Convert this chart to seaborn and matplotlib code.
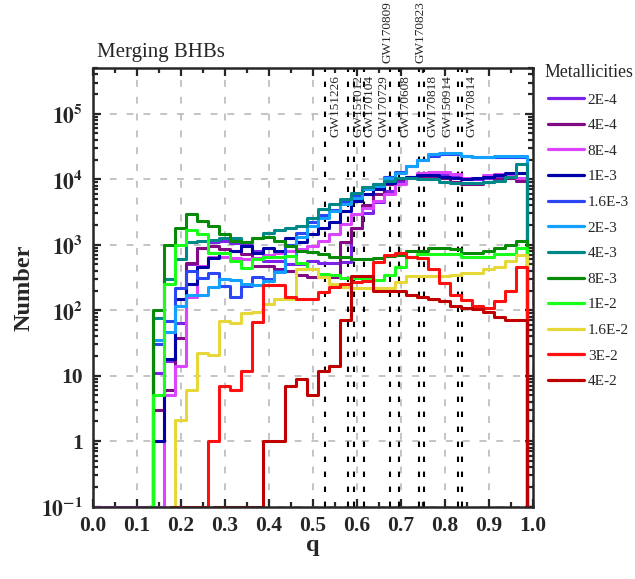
import numpy as np
import pandas as pd
import matplotlib
matplotlib.use("Agg")
import matplotlib.pyplot as plt
import matplotlib.ticker as mticker
from matplotlib.lines import Line2D
import matplotlib.transforms as mtransforms
import seaborn as sns

nan = np.nan

# ---------------------------------------------------------
# data : number of merging BHBs per mass-ratio bin (bin width 0.025)
# ---------------------------------------------------------
q = np.round(np.arange(41) * 0.025, 3)

metallicities = ["2E-4", "4E-4", "8E-4", "1E-3", "1.6E-3", "2E-3",
                 "4E-3", "8E-3", "1E-2", "1.6E-2", "3E-2", "4E-2"]
colors = ["#7b24e8", "#820a84", "#dd44ff", "#0000a8", "#2a46f5", "#13a0ff",
          "#008888", "#078a07", "#19ff19", "#e6d838", "#ff1010", "#c00000"]

n_2e4 = [nan, nan, nan, nan, nan, 0.1, 11, 17, 64, 500, 900, 1100, 1150, 1050,
         1000, 800, 560, 560, 500, 500, 560, 530, 520, 550, 1800, 3000, 4500,
         6500, 9000, 11000, 12000, 12500, 12000, 11000, 10000, 10000, 10500,
         11000, 11000, 10000, 0.1]
n_4e4 = [nan, nan, nan, nan, nan, 0.1, 3, 6, 37, 530, 900, 950, 870, 800,
         730, 480, 480, 430, 400, 350, 320, 320, 320, 1100, 1800, 4000, 6000,
         8500, 10000, 10500, 10500, 11000, 10500, 9000, 8500, 8500, 9000,
         10000, 10500, 9500, 0.1]
n_8e4 = [0.1, 0.1, 0.1, 0.1, 0.1, 0.1, 0.1, 5, 14, 160, 480, 650, 650, 620,
         600, 620, 700, 760, 800, 870, 950, 1150, 1450, 2100, 2900, 3700, 4700,
         6000, 8400, 11000, 12500, 13000, 13000, 12000, 10500, 10500, 11500,
         12000, 12000, 10500, 0.1]
n_1e3 = [nan, nan, nan, nan, nan, 0.1, 1, 18, 150, 250, 460, 620, 760, 800,
         950, 760, 900, 800, 1250, 1100, 1450, 1800, 2200, 3300, 4700, 6000,
         7000, 8900, 10500, 11000, 11500, 11500, 11000, 10500, 10000, 10500,
         11000, 11500, 12500, 12500, 0.1]
n_16e3 = [nan, nan, nan, nan, nan, 0.1, 30, 68, 215, 400, 310, 370, 235, 160,
          235, 320, 300, 400, 1000, 1500, 2200, 2800, 3400, 4600, 5500, 7500,
          8500, 11000, 13000, 16000, 20000, 23000, 24000, 24000, 23000, 22000,
          22000, 22000, 22000, 22000, 0.1]
n_2e3 = [nan, nan, nan, nan, nan, 0.1, 35, 46, 115, 170, 170, 230, 300, 290,
         250, 240, 280, 380, 680, 1300, 1900, 2600, 3300, 4200, 5200, 7000,
         8000, 10500, 12400, 16000, 20000, 24000, 25000, 25000, 23000, 22000,
         22000, 22500, 22500, 22500, 0.1]
n_4e3 = [nan, nan, nan, nan, nan, 0.1, 75, 300, 600, 1100, 1150, 1200, 1250,
         1250, 1100, 1250, 1500, 1700, 1800, 1900, 2600, 3500, 4200, 5000, 6200,
         7500, 8500, 9500, 10500, 10500, 10000, 10000, 9000, 8700, 8700, 8700,
         9000, 9500, 11000, 17000, 0.1]
n_8e3 = [nan, nan, nan, nan, nan, 0.1, 100, 1000, 1800, 2900, 2300, 1900, 1450,
         1150, 1100, 1250, 1300, 1150, 950, 800, 780, 720, 650, 640, 610, 610,
         620, 680, 700, 790, 800, 880, 900, 850, 760, 760, 800, 880, 1000, 1150,
         0.1]
n_1e2 = [nan, nan, nan, nan, nan, 0.1, 5, 250, 1000, 1700, 1450, 750, 740, 560,
         440, 610, 640, 640, 680, 520, 420, 360, 340, 310, 310, 300, 290, 350,
         460, 640, 730, 730, 730, 730, 650, 650, 650, 720, 720, 900, 0.1]
n_16e2 = [nan, nan, nan, nan, nan, nan, nan, 0.1, 2.1, 6, 22, 21, 68, 64, 92,
          95, 125, 150, 150, 430, 420, 320, 250, 230, 215, 215, 215, 220, 270,
          330, 330, 330, 330, 340, 370, 370, 420, 460, 560, 700, 0.1]
n_3e2 = [nan, nan, nan, nan, nan, nan, nan, 0.1, 0.1, 0.1, 0.1, 1, 7, 6, 12,
         65, 240, 240, 160, 150, 150, 190, 230, 250, 270, 280, 550, 700, 750,
         650, 630, 420, 260, 170, 145, 115, 110, 140, 200, 450, 0.1]
n_4e2 = [nan, nan, nan, nan, nan, nan, nan, nan, nan, nan, nan, 0.1, 0.1, 0.1,
         0.1, 0.1, 1, 1, 7, 9, 5, 12, 14, 72, 330, 330, 200, 200, 200, 170, 160,
         150, 140, 115, 110, 105, 95, 80, 72, 72, 0.1]

series = [n_2e4, n_4e4, n_8e4, n_1e3, n_16e3, n_2e3,
          n_4e3, n_8e3, n_1e2, n_16e2, n_3e2, n_4e2]

# GW events : line position and label position (q)
gw_names = ["GW151226", "GW151012", "GW170104", "GW170729", "GW170809",
            "GW170608", "GW170823", "GW170818", "GW150914", "GW170814"]
gw_q = [0.528, 0.581, 0.594, 0.617, 0.676, 0.696, 0.741, 0.752, 0.830, 0.839]
gw_label_q = [0.551, 0.605, 0.630, 0.660, 0.671, 0.712, 0.744, 0.773, 0.807, 0.862]
gw_label_top = [False, False, False, False, True, False, True, False, False, False]

# long form table for seaborn
df = pd.concat([pd.DataFrame({"q": q, "Number": s, "Z": z})
                for s, z in zip(series, metallicities)], ignore_index=True)
df = df.dropna()

# ---------------------------------------------------------
# style
# ---------------------------------------------------------
sns.set_style("ticks")
plt.rcParams["font.family"] = ["Liberation Serif", "DejaVu Serif"]
plt.rcParams["mathtext.fontset"] = "stix"

fig = plt.figure(figsize=(6.35, 5.79), dpi=100)
ax = fig.add_axes([0.1458, 0.1249, 0.6931, 0.7577])

for v in gw_q:
    ax.axvline(v, color="black", lw=1.5, ls=(0, (2.6, 4.6)), zorder=1.5)

sns.lineplot(data=df, x="q", y="Number", hue="Z", hue_order=metallicities,
             palette=dict(zip(metallicities, colors)), drawstyle="steps-mid",
             linewidth=2.2, errorbar=None, legend=False, ax=ax, zorder=2)

ax.set_yscale("log")
ax.set_xlim(0, 1.0)
ax.set_ylim(0.1, 5e5)

ax.xaxis.set_major_locator(mticker.MultipleLocator(0.1))
ax.xaxis.set_minor_locator(mticker.MultipleLocator(0.05))
ax.xaxis.set_major_formatter(mticker.FormatStrFormatter("%.1f"))
ax.yaxis.set_major_locator(mticker.LogLocator(base=10, numticks=10))
ax.yaxis.set_minor_locator(mticker.LogLocator(base=10, subs=np.arange(2, 10), numticks=20))
ax.yaxis.set_minor_formatter(mticker.NullFormatter())


def ylab(v, pos):
    if abs(v - 1) < 1e-9:
        return "1"
    if abs(v - 10) < 1e-9:
        return "10"
    return r"$\mathbf{10^{%d}}$" % int(round(np.log10(v)))


ax.yaxis.set_major_formatter(mticker.FuncFormatter(ylab))

ax.tick_params(which="both", direction="in", top=True, right=True, width=1.6)
ax.tick_params(which="major", length=6, labelsize=15.5, pad=7)
ax.tick_params(which="minor", length=3.5)
for lab in ax.get_xticklabels() + ax.get_yticklabels():
    lab.set_fontweight("bold")
for sp in ax.spines.values():
    sp.set_linewidth(1.8)

ax.grid(True, which="major", color="#b4b4b4", lw=1.1, ls=(0, (4.5, 6.5)))
ax.set_axisbelow(True)

ax.set_xlabel("q", fontsize=17.5, fontweight="bold")
ax.set_ylabel("Number", fontsize=17.5, fontweight="bold")
ax.xaxis.set_label_coords(0.5, -0.065)
ax.yaxis.set_label_coords(-0.133, 0.5)

ax.text(0.01, 1.025, "Merging BHBs", transform=ax.transAxes, fontsize=15,
        ha="left", va="baseline")

trans = mtransforms.blended_transform_factory(ax.transData, ax.transAxes)
for name, lq, top in zip(gw_names, gw_label_q, gw_label_top):
    ax.text(lq, 1.011 if top else 0.843, name, transform=trans, rotation=90,
            ha="center", va="bottom", fontsize=9.5, clip_on=False)

handles = [Line2D([], [], color=c, lw=2.3) for c in colors]
leg = ax.legend(handles, metallicities, title="Metallicities", loc="upper left",
                bbox_to_anchor=(544 / 635, 1 - 64 / 579), bbox_transform=fig.transFigure,
                frameon=False, fontsize=11, title_fontsize=12.8, handlelength=2.35,
                handletextpad=0.25, labelspacing=0.78, borderaxespad=0, borderpad=0)

fig.savefig("out.png", dpi=100)
